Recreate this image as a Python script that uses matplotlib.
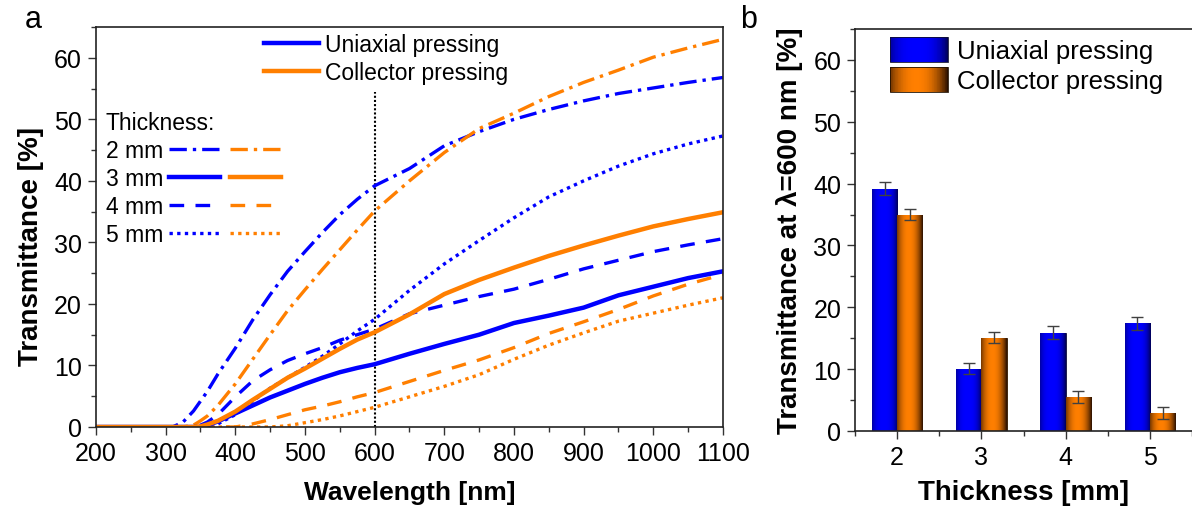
import numpy as np
import matplotlib
matplotlib.use("Agg")
import matplotlib.pyplot as plt
from matplotlib.legend_handler import HandlerTuple, HandlerBase
from matplotlib.patches import Rectangle
from matplotlib.ticker import MultipleLocator

plt.rcParams['font.family'] = ['Liberation Sans', 'DejaVu Sans']

# ---------------- data: panel a ----------------
wavelength = [200, 300, 310, 325, 340, 350, 360, 375, 400, 425, 450, 475, 500, 525,
              550, 575, 600, 650, 700, 750, 800, 850, 900, 950, 1000, 1050, 1100]
uni_2mm = [0, 0, 0, 0.8, 2.6, 4.2, 5.8, 8.6, 12.8, 17.4, 21.5, 25.3, 28.5, 31.6,
           34.5, 37.0, 39.2, 42.0, 45.7, 48.0, 50.0, 51.6, 53.0, 54.2, 55.1, 56.0, 56.8]
col_2mm = [0, 0, 0, 0, 0.3, 1.0, 1.8, 3.5, 7.0, 11.0, 15.0, 18.9, 22.3, 25.6,
           28.8, 32.0, 35.1, 40.0, 44.6, 48.5, 51.0, 53.7, 56.0, 58.0, 60.1, 61.6, 63.0]
uni_3mm = [0, 0, 0, 0, 0, 0, 0.3, 0.9, 2.2, 3.5, 4.8, 5.9, 7.0, 8.0,
           8.9, 9.6, 10.2, 11.9, 13.5, 15.0, 16.9, 18.1, 19.4, 21.4, 22.8, 24.2, 25.3]
col_3mm = [0, 0, 0, 0, 0, 0.1, 0.4, 1.0, 2.5, 4.4, 6.2, 8.0, 9.5, 11.1,
           12.7, 14.2, 15.4, 18.3, 21.6, 23.9, 25.9, 27.8, 29.5, 31.1, 32.6, 33.8, 34.9]
uni_4mm = [0, 0, 0, 0, 0, 0.3, 0.8, 2.0, 4.9, 7.5, 9.3, 10.8, 11.9, 12.9,
           14.1, 15.0, 15.9, 18.4, 19.8, 21.2, 22.4, 24.0, 25.7, 27.1, 28.5, 29.6, 30.6]
col_4mm = [0, 0, 0, 0, 0, 0, 0, 0, 0, 0.5, 1.2, 2.0, 2.8, 3.4,
           4.1, 4.9, 5.6, 7.4, 9.2, 10.9, 12.9, 15.2, 17.1, 19.1, 21.3, 23.2, 24.8]
uni_5mm = [0, 0, 0, 0, 0, 0, 0, 0.5, 2.0, 4.2, 6.3, 8.0, 9.7, 11.5,
           13.5, 15.6, 17.5, 22.2, 26.5, 30.3, 34.0, 37.4, 40.0, 42.4, 44.4, 46.0, 47.3]
col_5mm = [0, 0, 0, 0, 0, 0, 0, 0, 0, 0, 0, 0.2, 0.7, 1.2,
           1.8, 2.5, 3.2, 4.9, 6.6, 8.5, 11.0, 13.3, 15.3, 17.2, 18.5, 19.8, 21.0]
ref_wavelength = 600
ref_line_top = 54.5

# ---------------- data: panel b ----------------
thickness = [2, 3, 4, 5]
bar_uni = [39.2, 10.1, 15.9, 17.4]
bar_uni_err = [1.0, 0.9, 1.0, 1.0]
bar_col = [35.0, 15.1, 5.5, 2.9]
bar_col_err = [0.9, 0.9, 0.9, 1.0]

thickness_labels = ['2 mm', '3 mm', '4 mm', '5 mm']
series_labels = ['Uniaxial pressing', 'Collector pressing']

BLUE = '#0000FF'
ORANGE = '#FF7F00'

fig = plt.figure(figsize=(11.92, 5.10), dpi=100)
axa = fig.add_axes([0.0805, 0.1608, 0.5260, 0.7842])
axb = fig.add_axes([0.7173, 0.1530, 0.2827, 0.7882])

# ---------------- panel a ----------------
lw_thin = 2.4
dashdot = (0, (5.2, 1.8, 1, 1.8))
dashed = (0, (4.4, 3.4))
dotted = (0, (1, 1.3))
lu2, = axa.plot(wavelength, uni_2mm, color=BLUE, lw=lw_thin, ls=dashdot)
lc2, = axa.plot(wavelength, col_2mm, color=ORANGE, lw=lw_thin, ls=dashdot)
lu4, = axa.plot(wavelength, uni_4mm, color=BLUE, lw=lw_thin, ls=dashed)
lc4, = axa.plot(wavelength, col_4mm, color=ORANGE, lw=lw_thin, ls=dashed)
lu5, = axa.plot(wavelength, uni_5mm, color=BLUE, lw=lw_thin, ls=dotted)
lc5, = axa.plot(wavelength, col_5mm, color=ORANGE, lw=lw_thin, ls=dotted)
lu3, = axa.plot(wavelength, uni_3mm, color=BLUE, lw=3.2, ls='-')
lc3, = axa.plot(wavelength, col_3mm, color=ORANGE, lw=3.2, ls='-')
for l in (lu2, lc2, lu4, lc4, lu5, lc5):
    l.set_dash_capstyle('butt')

axa.set_xlim(200, 1100)
axa.set_ylim(0, 65)
axa.axvline(ref_wavelength, ymin=0, ymax=ref_line_top / 65, color='black',
            lw=1.5, ls=(0, (1, 1)), zorder=1)

axa.xaxis.set_major_locator(MultipleLocator(100))
axa.xaxis.set_minor_locator(MultipleLocator(50))
axa.yaxis.set_major_locator(MultipleLocator(10))
axa.yaxis.set_minor_locator(MultipleLocator(5))
for ax in (axa, axb):
    ax.tick_params(which='both', direction='out', top=False, right=False,
                   labelsize=18, width=1.0, color='#333333')
    ax.tick_params(which='major', length=6, pad=4)
    ax.tick_params(which='minor', length=3.5)
    for s in ax.spines.values():
        s.set_linewidth(1.2)
        s.set_color('#222222')

axa.set_xlabel('Wavelength [nm]', fontsize=19, fontweight='bold')
axa.set_ylabel('Transmittance [%]', fontsize=20, fontweight='bold')
axa.xaxis.set_label_coords(0.5, -0.133)
axa.yaxis.set_label_coords(-0.083, 0.455)

leg1 = axa.legend([lu3, lc3], series_labels, loc='upper left',
                  bbox_to_anchor=(0.268, 0.985), frameon=False, fontsize=16.5,
                  handlelength=2.4, handletextpad=0.25, borderpad=0,
                  borderaxespad=0, labelspacing=0.2)
axa.add_artist(leg1)
leg2 = axa.legend([(lu2, lc2), (lu3, lc3), (lu4, lc4), (lu5, lc5)], thickness_labels,
                  handler_map={tuple: HandlerTuple(ndivide=None, pad=0.45)},
                  loc='upper left', bbox_to_anchor=(0.016, 0.79), frameon=False,
                  fontsize=16.5, title='Thickness:', title_fontsize=16.5,
                  alignment='left', markerfirst=False, handlelength=4.9,
                  handletextpad=0.25, borderpad=0, borderaxespad=0,
                  labelspacing=0.22)

# ---------------- panel b ----------------
def gradient(base, dark, n=80, power=2.5):
    t = np.linspace(0, 1, n)
    w = 1 - np.abs((t - 0.45) / 0.55) ** power
    w = np.clip(w, 0, 1)
    base = np.array(matplotlib.colors.to_rgb(base))
    dark = np.array(matplotlib.colors.to_rgb(dark))
    return dark[None, :] + (base - dark)[None, :] * w[:, None]

grad_u = gradient(BLUE, '#000055', power=3.0)
grad_c = gradient(ORANGE, '#2A1000', power=2.2)

width = 0.3
xu = [t - width / 2 for t in thickness]
xc = [t + width / 2 for t in thickness]
bars_u = axb.bar(xu, bar_uni, width=width, color=BLUE, edgecolor='#101030', lw=0.6, zorder=2)
bars_c = axb.bar(xc, bar_col, width=width, color=ORANGE, edgecolor='#201000', lw=0.6, zorder=2)

for bars, grad in ((bars_u, grad_u), (bars_c, grad_c)):
    for p in bars:
        x0, y0, w, h = p.get_x(), p.get_y(), p.get_width(), p.get_height()
        im = axb.imshow(grad[None, :, :], extent=[x0, x0 + w, y0, y0 + h],
                        aspect='auto', zorder=2.1, interpolation='bilinear')
        im.set_clip_path(p)

axb.errorbar(xu, bar_uni, yerr=bar_uni_err, fmt='none', ecolor='#404040',
             elinewidth=1.0, capsize=4.5, capthick=1.0, zorder=3)
axb.errorbar(xc, bar_col, yerr=bar_col_err, fmt='none', ecolor='#404040',
             elinewidth=1.0, capsize=4.5, capthick=1.0, zorder=3)

axb.set_xlim(1.5, 5.5)
axb.set_ylim(0, 65)
axb.set_xticks(thickness)
axb.xaxis.set_minor_locator(MultipleLocator(0.5))
axb.yaxis.set_major_locator(MultipleLocator(10))
axb.yaxis.set_minor_locator(MultipleLocator(5))
axb.spines['right'].set_visible(False)
axb.tick_params(axis='x', which='minor', length=3.5)

axb.set_xlabel('Thickness [mm]', fontsize=20, fontweight='bold')
axb.set_ylabel('Transmittance at λ=600 nm [%]', fontsize=20, fontweight='bold')
axb.xaxis.set_label_coords(0.5, -0.12)
axb.yaxis.set_label_coords(-0.155, 0.5)


class GradientHandler(HandlerBase):
    def __init__(self, colors, edge):
        super().__init__()
        self.colors = colors
        self.edge = edge

    def create_artists(self, legend, orig_handle, xdescent, ydescent, width,
                       height, fontsize, trans):
        n = len(self.colors)
        arts = []
        for i, c in enumerate(self.colors):
            r = Rectangle((-xdescent + width * i / n, -ydescent), width / n * 1.1,
                          height, facecolor=c, edgecolor='none', transform=trans)
            arts.append(r)
        arts.append(Rectangle((-xdescent, -ydescent), width, height, fill=False,
                              edgecolor=self.edge, lw=0.6, transform=trans))
        return arts


axb.legend([bars_u, bars_c], series_labels, loc='upper left',
           bbox_to_anchor=(0.105, 0.98), frameon=False, fontsize=18.5,
           handlelength=2.25, handleheight=1.1, handletextpad=0.35,
           borderpad=0, borderaxespad=0, labelspacing=0.15,
           handler_map={bars_u: GradientHandler(grad_u, '#101030'),
                        bars_c: GradientHandler(grad_c, '#201000')})

fig.text(0.028, 0.96, 'a', fontsize=22, ha='center', va='center')
fig.text(0.628, 0.96, 'b', fontsize=22, ha='center', va='center')

fig.savefig('out.png', dpi=100)
